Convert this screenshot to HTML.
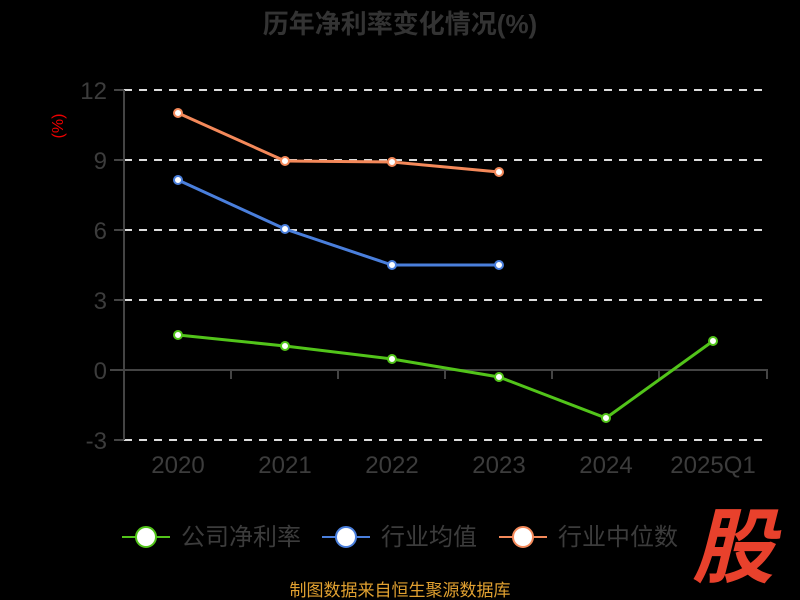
<!DOCTYPE html>
<html><head><meta charset="utf-8"><style>
html,body{margin:0;padding:0;background:#000;}
svg{display:block;font-family:"Liberation Sans","Noto Sans CJK SC",sans-serif;}
</style></head><body>
<svg width="800" height="600" viewBox="0 0 800 600">
<rect width="800" height="600" fill="#000"/>
<text x="400" y="33" text-anchor="middle" font-size="26" font-weight="bold" fill="#333">历年净利率变化情况(%)</text>
<text transform="translate(63,126) rotate(-90)" text-anchor="middle" font-size="16" fill="#e00">(%)</text>
<g stroke="#ddd" stroke-width="2" stroke-dasharray="8,7">
<line x1="124" y1="90" x2="768" y2="90"/><line x1="124" y1="160" x2="768" y2="160"/>
<line x1="124" y1="230" x2="768" y2="230"/><line x1="124" y1="300" x2="768" y2="300"/>
<line x1="124" y1="440" x2="768" y2="440"/>
</g>
<g stroke="#444" stroke-width="2">
<line x1="124" y1="90" x2="124" y2="440"/>
<line x1="114" y1="90" x2="124" y2="90"/><line x1="114" y1="160" x2="124" y2="160"/>
<line x1="114" y1="230" x2="124" y2="230"/><line x1="114" y1="300" x2="124" y2="300"/>
<line x1="114" y1="370" x2="124" y2="370"/><line x1="114" y1="440" x2="124" y2="440"/>
<line x1="110" y1="370" x2="768" y2="370"/>
<line x1="231" y1="370" x2="231" y2="379"/><line x1="338" y1="370" x2="338" y2="379"/>
<line x1="445" y1="370" x2="445" y2="379"/><line x1="552" y1="370" x2="552" y2="379"/>
<line x1="659" y1="370" x2="659" y2="379"/><line x1="767" y1="370" x2="767" y2="379"/>
</g>
<g font-size="24" fill="#3c3c3c" text-anchor="end" font-weight="300">
<text x="107" y="99">12</text><text x="107" y="169">9</text><text x="107" y="239">6</text>
<text x="107" y="309">3</text><text x="107" y="379">0</text><text x="107" y="449">-3</text>
</g>
<g font-size="24" fill="#3c3c3c" text-anchor="middle">
<text x="178" y="473">2020</text><text x="285" y="473">2021</text><text x="392" y="473">2022</text>
<text x="499" y="473">2023</text><text x="606" y="473">2024</text><text x="713" y="473">2025Q1</text>
</g>
<g fill="none" stroke-width="3">
<polyline stroke="#f4895a" points="178,113 285,161 392,162 499,172"/>
<polyline stroke="#4a7fdc" points="178,180 285,229 392,265 499,265"/>
<polyline stroke="#52c41a" points="178,335 285,346 392,359 499,377 606,418 713,341"/>
</g>
<g fill="#fff" stroke-width="2">
<g stroke="#f4895a"><circle cx="178" cy="113" r="4"/><circle cx="285" cy="161" r="4"/><circle cx="392" cy="162" r="4"/><circle cx="499" cy="172" r="4"/></g>
<g stroke="#4a7fdc"><circle cx="178" cy="180" r="4"/><circle cx="285" cy="229" r="4"/><circle cx="392" cy="265" r="4"/><circle cx="499" cy="265" r="4"/></g>
<g stroke="#52c41a"><circle cx="178" cy="335" r="4"/><circle cx="285" cy="346" r="4"/><circle cx="392" cy="359" r="4"/><circle cx="499" cy="377" r="4"/><circle cx="606" cy="418" r="4"/><circle cx="713" cy="341" r="4"/></g>
</g>
<g stroke-width="2">
<line x1="122" y1="537" x2="170" y2="537" stroke="#52c41a"/><circle cx="146" cy="537" r="10" fill="#fff" stroke="#52c41a"/>
<line x1="322" y1="537" x2="370" y2="537" stroke="#4a7fdc"/><circle cx="346" cy="537" r="10" fill="#fff" stroke="#4a7fdc"/>
<line x1="499" y1="537" x2="547" y2="537" stroke="#f4895a"/><circle cx="523" cy="537" r="10" fill="#fff" stroke="#f4895a"/>
</g>
<g font-size="24" fill="#3c3c3c">
<text x="181" y="545">公司净利率</text><text x="381" y="545">行业均值</text><text x="558" y="545">行业中位数</text>
</g>
<text x="733" y="576" text-anchor="middle" font-size="82" font-weight="bold" font-style="italic" fill="#e8412c">股</text>
<text x="400" y="596" text-anchor="middle" font-size="17" fill="#e0a030">制图数据来自恒生聚源数据库</text>
</svg>
</body></html>
